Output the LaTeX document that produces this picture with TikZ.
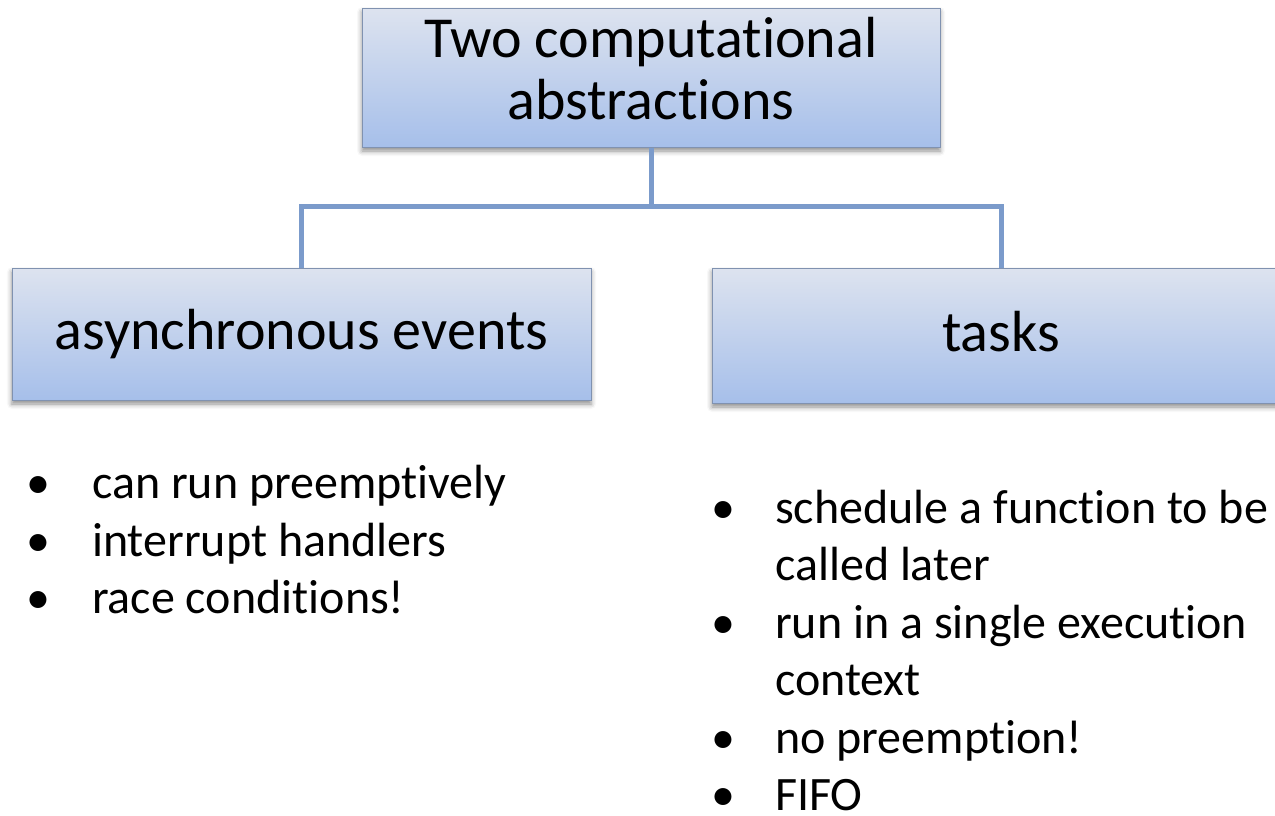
\documentclass[tikz,border=0pt]{standalone}
\usepackage{fontspec}
\setmainfont{Carlito}[RawFeature={-liga;-clig;-dlig}]
\usetikzlibrary{shadows.blur}
\newcommand\tiNL{t\kern0pt i}
\definecolor{boxtop}{RGB}{221,227,239}
\definecolor{boxbot}{RGB}{166,191,234}
\definecolor{boxedge}{RGB}{128,146,176}
\definecolor{linkc}{RGB}{123,155,203}
\tikzset{
  box/.style={draw=boxedge, line width=1pt, top color=boxtop, bottom color=boxbot,
    inner sep=0pt, align=center, font=\fontsize{58}{62}\selectfont,
    blur shadow={shadow xshift=0pt, shadow yshift=-4pt, shadow blur radius=5pt, shadow opacity=45}},
  oneline/.style={text height=36pt, text depth=5pt},
  link/.style={draw=linkc, line width=5pt},
  item/.style={anchor=base west, inner sep=0pt, text depth=0pt, font=\fontsize{48}{58}\selectfont},
  dot/.style={anchor=base, inner sep=0pt, text depth=0pt, font=\fontsize{48}{58}\selectfont}
}
\begin{document}
\begin{tikzpicture}[x=1pt,y=-1pt]
\useasboundingbox (0,0) rectangle (1275,815);
\node[box, minimum width=578pt, minimum height=139pt, text depth=19pt] (top) at (651,77.5) {Two computa\tiNL onal\\abstrac\tiNL ons};
\node[box, oneline, minimum width=579pt, minimum height=132pt] (left) at (301.5,334) {asynchronous events};
\node[box, oneline, minimum width=578pt, minimum height=135pt] (right) at (1001,335.5) {tasks};
\coordinate (j) at (651,206.5);
\draw[link] (top.south) -- (j);
\draw[link] (j) -| (left.north);
\draw[link] (j) -| (right.north);
% left bullets
\node[dot] (la) at (38,498.5) {•};
\node[item] (lat) at (92,498.5) {can run preemp\tiNL vely};
\node[dot] (lb) at (38,556) {•};
\node[item] (lbt) at (92,556) {interrupt handlers};
\node[dot] (lc) at (38,613.5) {•};
\node[item] (lct) at (92,613.5) {race condi\tiNL ons!};
% right bullets
\node[dot] (ra) at (723,523) {•};
\node[item] (rat) at (775,523) {schedule a func\tiNL on to be};
\node[item] (rat2) at (775,580.5) {called later};
\node[dot] (rb) at (723,638) {•};
\node[item] (rbt) at (775,638) {run in a single execu\tiNL on};
\node[item] (rbt2) at (775,695.5) {context};
\node[dot] (rc) at (723,753) {•};
\node[item] (rct) at (775,753) {no preemp\tiNL on!};
\node[dot] (rd) at (723,810.5) {•};
\node[item] (rdt) at (775,810.5) {FIFO};
\end{tikzpicture}
\end{document}
